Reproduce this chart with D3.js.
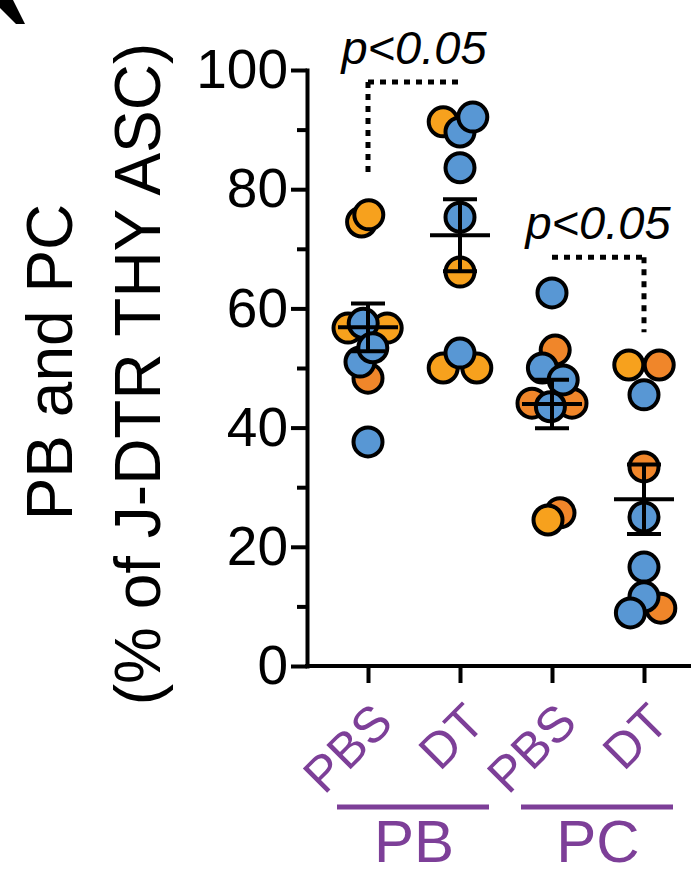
<!DOCTYPE html>
<html>
<head>
<meta charset="utf-8">
<script src="https://cdn.jsdelivr.net/npm/d3@7/dist/d3.min.js"></script>
<style>
  html, body { margin: 0; padding: 0; background: #fff; }
  svg { display: block; }
  text { font-family: "Liberation Sans", Arial, sans-serif; }
</style>
</head>
<body>
<svg id="chart" width="691" height="874"></svg>
<script>
// ---------- data ----------
const categories = ["PB-PBS", "PB-DT", "PC-PBS", "PC-DT"];
const categoryLabels = ["PBS", "DT", "PBS", "DT"];
const groupNames = ["PB", "PC"];
const groupMembers = [["PB-PBS", "PB-DT"], ["PC-PBS", "PC-DT"]];
const yTicks = [0, 20, 40, 60, 80, 100];
const yMinorTicks = [10, 30, 50, 70, 90];

// values per category, in drawing order
const values = [
  [74.5, 75.7, 56.7, 56.7, 48.3, 37.6, 51.0, 57.5, 53.4],
  [91.3, 89.6, 92.1, 83.6, 75.3, 66.1, 50.0, 50.0, 52.5],
  [53.0, 50.0, 44.1, 44.1, 48.0, 43.5, 62.6, 25.7, 24.5],
  [50.5, 50.5, 45.5, 33.4, 25.0, 16.6, 9.7, 11.6, 8.9]
];
// point kind: o = light orange, d = dark orange, b = blue
const kinds = [
  ["o", "o", "o", "o", "d", "b", "b", "b", "b"],
  ["o", "b", "b", "b", "b", "o", "o", "o", "b"],
  ["d", "b", "d", "d", "b", "b", "b", "d", "o"],
  ["o", "d", "b", "d", "b", "b", "d", "b", "b"]
];
// scatter lane (horizontal dodge, in lane units)
const lanes = [
  [-0.4, 0.05, -1.25, 1.2, 0, 0, -0.5, -0.3, 0.3],
  [-1.05, 0, 0.8, 0, 0, 0, -1.05, 1.05, 0],
  [0.2, -0.6, -1.25, 1.25, 0.7, -0.1, 0, 0.5, -0.25],
  [-0.95, 0.95, 0, 0, 0, 0, 1.05, 0, -0.85]
];
// significance brackets
const brackets = [
  {from: "PB-PBS", to: "PB-DT", top: 98, drop: "PB-PBS", dropTo: 82, label: "p<0.05"},
  {from: "PC-PBS", to: "PC-DT", top: 68.6, drop: "PC-DT", dropTo: 56, label: "p<0.05"}
];

// ---------- layout ----------
const W = 691, H = 874;
const colors = {o: "#f7a11d", d: "#f0862a", b: "#5897d4"};
const purple = "#7d3f98";
const svg = d3.select("#chart");

const y = d3.scaleLinear().domain([0, 100]).range([666, 70]);
const x = d3.scalePoint().domain(categories).range([368, 644]);
const axisX = 307;
const laneW = 16;
const R = 14.5;

// y axis
const yAxis = svg.append("g").attr("transform", `translate(${axisX},0)`)
  .call(d3.axisLeft(y).tickValues(yTicks).tickSize(16).tickSizeOuter(0).tickPadding(3));
yAxis.select(".domain").attr("stroke", "#000").attr("stroke-width", 4).attr("stroke-linecap", "square");
yAxis.selectAll(".tick line").attr("stroke", "#000").attr("stroke-width", 4);
yAxis.selectAll(".tick text").attr("font-size", 55).attr("fill", "#000")
  .attr("font-family", "Liberation Sans, Arial, sans-serif");
svg.append("g").attr("transform", `translate(${axisX},0)`)
  .call(d3.axisLeft(y).tickValues(yMinorTicks).tickSize(10).tickFormat(""))
  .call(g => g.select(".domain").remove())
  .selectAll(".tick line").attr("stroke", "#000").attr("stroke-width", 4);

// x axis
const xAxis = svg.append("g").attr("transform", `translate(0,${y(0)})`)
  .call(d3.axisBottom(x).tickSize(17).tickFormat(""));
xAxis.select(".domain").remove();
xAxis.selectAll(".tick line").attr("stroke", "#000").attr("stroke-width", 4);
svg.append("line").attr("x1", axisX - 2).attr("x2", W).attr("y1", y(0)).attr("y2", y(0))
  .attr("stroke", "#000").attr("stroke-width", 4);

// category labels
svg.append("g").selectAll("text").data(categories).join("text")
  .attr("transform", d => `translate(${x(d) + 27},725) rotate(-45)`)
  .attr("text-anchor", "end")
  .attr("font-size", 50)
  .attr("fill", purple)
  .text((d, i) => categoryLabels[i]);

// group labels & underlines
groupMembers.forEach((m, gi) => {
  const x0 = x(m[0]) - 31, x1 = x(m[1]) + 29;
  svg.append("line").attr("x1", x0).attr("x2", x1).attr("y1", 807).attr("y2", 807)
    .attr("stroke", purple).attr("stroke-width", 5);
  svg.append("text").attr("x", (x(m[0]) + x(m[1])) / 2).attr("y", 862)
    .attr("text-anchor", "middle").attr("font-size", 60).attr("fill", purple)
    .text(groupNames[gi]);
});

// y axis title
const yt = svg.append("text").attr("transform", `translate(0,${(y(0) + y(100)) / 2}) rotate(-90)`)
  .attr("text-anchor", "middle").attr("font-size", 64).attr("fill", "#000");
yt.append("tspan").attr("x", 6).attr("y", 72).text("PB and PC");
yt.append("tspan").attr("x", -6).attr("y", 160).text("(% of J-DTR THY ASC)");

// points
categories.forEach((c, ci) => {
  const g = svg.append("g");
  values[ci].forEach((v, i) => {
    g.append("circle")
      .attr("cx", x(c) + lanes[ci][i] * laneW)
      .attr("cy", y(v))
      .attr("r", R)
      .attr("fill", colors[kinds[ci][i]])
      .attr("stroke", "#000")
      .attr("stroke-width", 4);
  });
  // mean +/- SEM
  const m = d3.mean(values[ci]);
  const sem = d3.deviation(values[ci]) / Math.sqrt(values[ci].length);
  const cx = x(c);
  g.append("line").attr("x1", cx).attr("x2", cx).attr("y1", y(m + sem)).attr("y2", y(m - sem))
    .attr("stroke", "#000").attr("stroke-width", 4);
  [m + sem, m - sem].forEach(v => g.append("line").attr("x1", cx - 17).attr("x2", cx + 17)
    .attr("y1", y(v)).attr("y2", y(v)).attr("stroke", "#000").attr("stroke-width", 4));
  g.append("line").attr("x1", cx - 30).attr("x2", cx + 30).attr("y1", y(m)).attr("y2", y(m))
    .attr("stroke", "#000").attr("stroke-width", 4);
});

// brackets
brackets.forEach(b => {
  const xa = x(b.from), xb = x(b.to), xd = x(b.drop);
  const dash = {"stroke": "#000", "stroke-width": 5, "stroke-dasharray": "6,6"};
  const h = svg.append("line").attr("x1", xa).attr("x2", xb).attr("y1", y(b.top)).attr("y2", y(b.top));
  const v = svg.append("line").attr("x1", xd).attr("x2", xd).attr("y1", y(b.top)).attr("y2", y(b.dropTo));
  [h, v].forEach(l => Object.entries(dash).forEach(([k, val]) => l.attr(k, val)));
  svg.append("text").attr("x", (xa + xb) / 2).attr("y", y(b.top) - 18)
    .attr("text-anchor", "middle").attr("font-size", 47).attr("font-style", "italic")
    .attr("fill", "#000").text(b.label);
});

// panel-letter fragment at top-left corner
svg.append("path").attr("d", "M0,0 L13,0 L25,24 L16,24 L0,8 Z").attr("fill", "#000");
</script>
</body>
</html>
